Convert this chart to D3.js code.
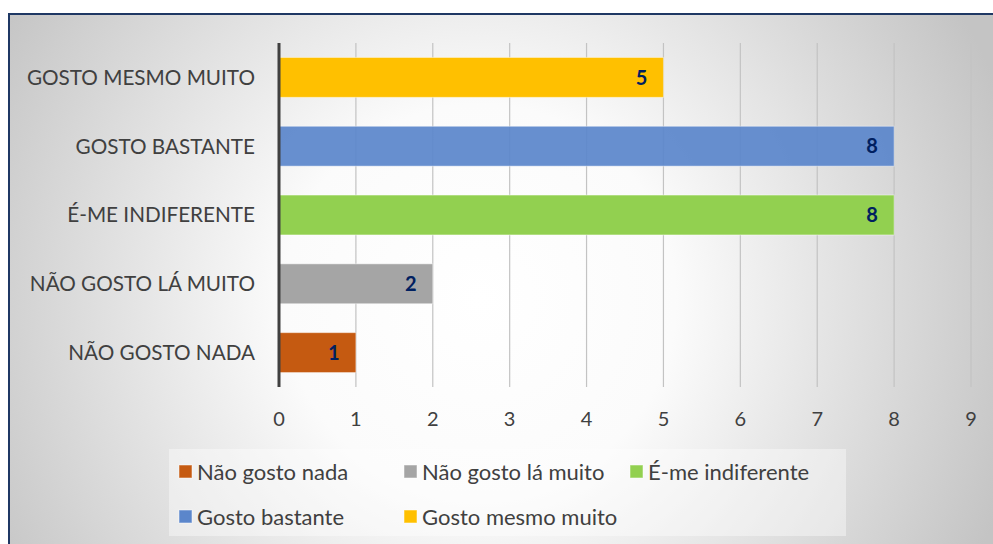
<!DOCTYPE html>
<html>
<head>
<meta charset="utf-8">
<script src="https://cdn.jsdelivr.net/npm/d3@7"></script>
<style>
  body { margin: 0; background: #fff; }
  svg { display: block; }
</style>
</head>
<body>
<div id="chartArea"></div>
<script>
// data
const categories = ["NÃO GOSTO NADA", "NÃO GOSTO LÁ MUITO", "É-ME INDIFERENTE", "GOSTO BASTANTE", "GOSTO MESMO MUITO"];
const legendNames = ["Não gosto nada", "Não gosto lá muito", "É-me indiferente", "Gosto bastante", "Gosto mesmo muito"];
const values = [1, 2, 8, 8, 5];
const colors = ["#C55A11", "#A5A5A5", "#92D050", "#5B86CB", "#FFC000"];
const xTicks = [0, 1, 2, 3, 4, 5, 6, 7, 8, 9];

const W = 993, H = 544;
const margin = {top: 43, left: 279, right: 22, bottom: 157};
const font = "Lato, 'Open Sans', sans-serif";

const svg = d3.select("#chartArea")
  .append("svg")
  .attr("width", W)
  .attr("height", H);

// background gradient
const defs = svg.append("defs");
const grad = defs.append("radialGradient")
  .attr("id", "bg")
  .attr("gradientUnits", "userSpaceOnUse")
  .attr("cx", 480).attr("cy", 300).attr("r", 560);
grad.append("stop").attr("offset", "0%").attr("stop-color", "#ffffff");
grad.append("stop").attr("offset", "35%").attr("stop-color", "#fbfbfb");
grad.append("stop").attr("offset", "100%").attr("stop-color", "#c4c4c4");

svg.append("rect")
  .attr("x", 9).attr("y", 14)
  .attr("width", W + 20).attr("height", H + 20)
  .attr("fill", "url(#bg)")
  .attr("stroke", "#1F3864")
  .attr("stroke-width", 2);

const x = d3.scaleLinear()
  .domain([0, 9])
  .range([margin.left, 971]);

const y = d3.scaleBand()
  .domain(categories.slice().reverse())
  .range([margin.top, 387])
  .paddingInner(0.42)
  .paddingOuter(0.21);

// gridlines
svg.append("g")
  .selectAll("line")
  .data(xTicks.slice(1))
  .enter()
  .append("line")
  .attr("x1", d => x(d)).attr("x2", d => x(d))
  .attr("y1", margin.top).attr("y2", 387)
  .attr("stroke", "#c3c3c3")
  .attr("stroke-width", 1.2);

// bars
svg.append("g")
  .selectAll("rect")
  .data(categories)
  .enter()
  .append("rect")
  .attr("x", x(0))
  .attr("y", d => y(d))
  .attr("width", (d, i) => x(values[i]) - x(0))
  .attr("height", y.bandwidth())
  .attr("fill", (d, i) => colors[i])
  .attr("fill-opacity", (d, i) => i === 3 ? 0.93 : 1)
  .attr("stroke", "rgba(255,255,255,0.45)")
  .attr("stroke-width", 1);

// value labels
svg.append("g")
  .selectAll("text")
  .data(categories)
  .enter()
  .append("text")
  .attr("x", (d, i) => x(values[i]) - 22)
  .attr("y", d => y(d) + y.bandwidth() / 2)
  .attr("dy", "0.36em")
  .attr("text-anchor", "middle")
  .attr("font-family", font)
  .attr("font-weight", "bold")
  .attr("font-size", 20)
  .attr("fill", "#002060")
  .text((d, i) => values[i]);

// y axis line
svg.append("line")
  .attr("x1", x(0)).attr("x2", x(0))
  .attr("y1", margin.top).attr("y2", 387)
  .attr("stroke", "#404040")
  .attr("stroke-width", 3);

// category labels
svg.append("g")
  .selectAll("text")
  .data(categories)
  .enter()
  .append("text")
  .attr("x", 255)
  .attr("y", d => y(d) + y.bandwidth() / 2)
  .attr("dy", "0.36em")
  .attr("text-anchor", "end")
  .attr("font-family", font)
  .attr("font-size", 20.7)
  .attr("fill", "#404040")
  .text(d => d);

// x tick labels
svg.append("g")
  .selectAll("text")
  .data(xTicks)
  .enter()
  .append("text")
  .attr("x", d => x(d))
  .attr("y", 419)
  .attr("dy", "0.36em")
  .attr("text-anchor", "middle")
  .attr("font-family", font)
  .attr("font-size", 20)
  .attr("fill", "#404040")
  .text(d => d);

// legend
svg.append("rect")
  .attr("x", 169).attr("y", 449)
  .attr("width", 677).attr("height", 87)
  .attr("fill", "#ffffff")
  .attr("fill-opacity", 0.4);

const legendCols = [179, 404, 630];
const legendRows = [472, 517];
const legend = svg.append("g")
  .selectAll("g")
  .data(legendNames)
  .enter()
  .append("g")
  .attr("transform", (d, i) => "translate(" + legendCols[i % 3] + "," + legendRows[Math.floor(i / 3)] + ")");

legend.append("rect")
  .attr("x", 0).attr("y", -7)
  .attr("width", 13).attr("height", 13)
  .attr("fill", (d, i) => colors[i])
  .attr("stroke", "rgba(255,255,255,0.5)")
  .attr("stroke-width", 1);

legend.append("text")
  .attr("x", 18)
  .attr("y", 0)
  .attr("dy", "0.36em")
  .attr("font-family", font)
  .attr("font-size", 22)
  .attr("fill", "#404040")
  .text(d => d);
</script>
</body>
</html>
